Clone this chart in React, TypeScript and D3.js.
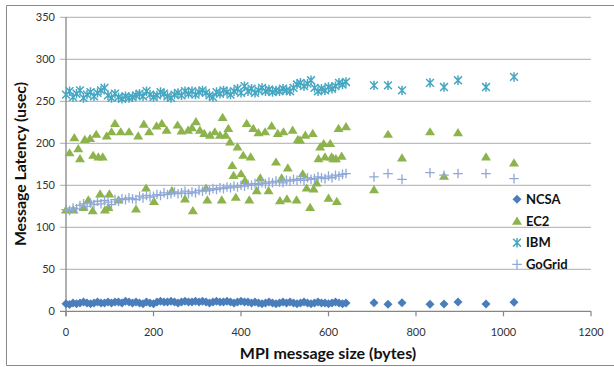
import React from 'react';
import * as d3 from 'd3';

const sizes = [0,8,16,24,32,40,48,56,64,72,80,88,96,104,112,120,128,136,144,152,160,168,176,184,192,200,208,216,224,232,240,248,256,264,272,280,288,296,304,312,320,328,336,344,352,360,368,376,384,392,400,408,416,424,432,440,448,456,464,472,480,488,496,504,512,520,528,536,544,552,560,568,576,584,592,600,608,616,624,632,640,704,736,768,832,864,896,960,1024];

const ncsa = [9,8,10,9,10,11,10,9,10,11,10,10,11,10,11,11,10,12,11,10,11,10,9,11,10,9,11,12,11,11,12,11,10,11,12,11,11,12,11,12,11,10,11,12,11,11,12,11,10,11,12,11,11,10,11,10,9,10,11,10,9,10,11,10,11,10,9,10,11,10,9,10,11,10,10,9,10,11,10,9,10,10.3,8.3,10.3,8.3,8.7,11,8.7,10.7];

const ibm = [258,262,255,259,263,254,258,261,256,260,263,266,257,254,259,255,253,256,254,255,257,259,256,262,258,255,257,261,259,256,254,258,260,257,262,259,262,258,261,263,260,257,255,261,259,263,261,258,262,265,260,268,262,265,260,263,266,262,264,261,263,262,265,263,262,266,270,272,268,271,275,266,262,265,263,267,265,268,272,270,273,269,269,263,272,267,275,267,279];

const gogrid = [121,120,123,122,126,128,125,129,127,131,128,132,130,127,133,131,134,133,135,134,133,137,135,138,136,137,139,138,141,139,140,142,140,141,143,140,142,141,144,143,145,144,146,145,147,146,148,147,149,148,150,149,151,150,152,151,153,152,154,153,155,154,153,156,155,157,156,158,156,159,157,158,160,159,158,161,159,162,161,163,164,160,164,157,165,162,164,164,158];

const ec2Sizes = [0,8,17,19,28,32,40,43,51,55,61,62,69,74,78,84,89,93,97,99,104,112,120,125,144,160,165,178,183,190,201,207,219,230,242,255,264,272,279,288,290,297,306,316,320,323,329,340,352,356,358,365,371,375,380,383,388,392,400,405,409,413,419,422,428,436,440,444,455,463,470,480,484,489,493,497,505,507,518,527,530,535,541,547,550,558,564,566,573,577,581,589,592,600,604,607,611,617,619,623,630,640,704,736,768,832,864,896,960,1024];
const ec2 = [121,189,121,207,194,182,124,205,133,206,120,186,211,184,140,184,121,209,124,140,214,224,133,214,214,122,209,223,147,214,131,221,224,216,144,222,215,134,216,219,120,226,216,212,147,133,210,214,210,133,231,210,218,202,174,162,136,196,164,186,156,224,133,184,218,144,213,159,214,144,221,178,212,132,159,214,134,171,216,133,205,204,164,210,147,124,212,146,153,182,196,200,184,135,200,184,182,182,131,218,185,220,145,211,183,214,161,213,184,177];

const seriesNames = ['NCSA', 'EC2', 'IBM', 'GoGrid'];
const seriesColors = ['#4A7EBB', '#8DB34D', '#46A7C2', '#8FA8D6'];
const xTicks = [0, 200, 400, 600, 800, 1000, 1200];
const yTicks = [0, 50, 100, 150, 200, 250, 300, 350];

const W = 614, H = 367;
const L = 66, R = 591, T = 17.3, B = 311.3;
const FONT = 'Lato, "Open Sans", sans-serif';

function Marker({ kind, color }: { kind: number; color: string }) {
  if (kind === 0) return <path d="M0,-4.5L4.5,0L0,4.5L-4.5,0Z" fill={color} />;
  if (kind === 1) return <path d="M0,-4.4L5,3.8L-5,3.8Z" fill={color} />;
  if (kind === 2)
    return (
      <path d="M-3.9,-3.9L3.9,3.9M-3.9,3.9L3.9,-3.9M0,-4.7L0,4.7" stroke={color} strokeWidth={1.5} fill="none" />
    );
  return <path d="M-4.8,0L4.8,0M0,-4.8L0,4.8" stroke={color} strokeWidth={1.3} fill="none" />;
}

export default function App() {
  const x = d3.scaleLinear().domain([0, 1200]).range([L, R]);
  const y = d3.scaleLinear().domain([0, 350]).range([B, T]);

  const series = [
    { xs: sizes, ys: ncsa },
    { xs: ec2Sizes, ys: ec2 },
    { xs: sizes, ys: ibm },
    { xs: sizes, ys: gogrid },
  ];

  return (
    <svg width={W} height={H} style={{ position: 'absolute', left: 0, top: 0, background: '#fff' }} fontFamily={FONT}>
      <rect x={0} y={0} width={W} height={H} fill="#fff" />
      <path d={`M${W + 2},5.5H6.5V365.5H${W + 2}`} fill="none" stroke="#8a8a8a" strokeWidth={1} />
      {yTicks.map((t) => (
        <g key={t}>
          <line x1={L - 6} x2={R} y1={y(t)} y2={y(t)} stroke={t === 0 ? '#868686' : '#bdbdbd'} strokeWidth={1.3} />
          <text x={55} y={y(t)} dy="0.35em" textAnchor="end" fontSize={11} fill="#333">{t}</text>
        </g>
      ))}
      <line x1={L} x2={L} y1={T} y2={B + 5} stroke="#868686" strokeWidth={1.3} />
      {xTicks.map((t) => (
        <g key={t}>
          <line x1={x(t)} x2={x(t)} y1={B} y2={B + 5} stroke="#868686" strokeWidth={1.2} />
          <text x={x(t)} y={335.5} textAnchor="middle" fontSize={11} fill="#333">{t}</text>
        </g>
      ))}
      {series.map((s, si) => (
        <g key={si}>
          {s.ys.map((v, i) => (
            <g key={i} transform={`translate(${x(s.xs[i])},${y(v)})`}>
              <Marker kind={si} color={seriesColors[si]} />
            </g>
          ))}
        </g>
      ))}
      {seriesNames.map((n, i) => {
        const ly = 199.3 + i * 21.7;
        return (
          <g key={n}>
            <g transform={`translate(517,${ly})`}>
              <Marker kind={i} color={seriesColors[i]} />
            </g>
            <text x={526} y={ly} dy="0.36em" fontSize={13} fontWeight="bold" fill="#111">{n}</text>
          </g>
        );
      })}
      <text x={328} y={358.5} textAnchor="middle" fontSize={16} fontWeight="bold" fill="#111">MPI message size (bytes)</text>
      <text transform="translate(26,164) rotate(-90)" textAnchor="middle" fontSize={15.8} fontWeight="bold" fill="#111">Message Latency (usec)</text>
    </svg>
  );
}
